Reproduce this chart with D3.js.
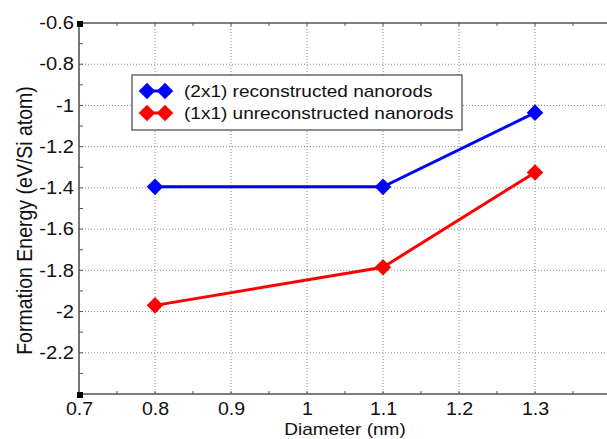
<!DOCTYPE html>
<html>
<head>
<meta charset="utf-8">
<script src="https://cdn.jsdelivr.net/npm/d3@7.9.0/dist/d3.min.js"></script>
<style>
  body { margin: 0; background: #fff; }
  svg { display: block; font-family: "Liberation Sans", Arial, sans-serif; }
</style>
</head>
<body>
<div id="chart"></div>
<script>
const diameters = [0.8, 1.1, 1.3];
const reconstructed = [-1.395, -1.395, -1.035];
const unreconstructed = [-1.97, -1.785, -1.325];
const seriesNames = ["(2x1) reconstructed nanorods", "(1x1) unreconstructed nanorods"];
const seriesColors = ["#0000ff", "#ff0000"];
const xTicks = [0.7, 0.8, 0.9, 1, 1.1, 1.2, 1.3];
const yTicks = [-0.6, -0.8, -1, -1.2, -1.4, -1.6, -1.8, -2, -2.2];

const width = 607;
const height = 439;
const margin = { top: 23, bottom: 45, left: 79 };
const stretchX = 1.12; // the original picture is a bit wider than tall

const svg = d3.select("#chart")
  .append("svg")
  .attr("width", width)
  .attr("height", height);

const x = d3.scaleLinear()
  .domain([0.7, 1.4])
  .range([margin.left, margin.left + 76 * 7]);

const y = d3.scaleLinear()
  .domain([-2.4, -0.6])
  .range([height - margin.bottom, margin.top]);

const axisColor = "#555";
const plotRight = width + 10;

// widen text around its own anchor point
function stretch(sel) {
  sel.each(function () {
    const t = d3.select(this);
    const tx = +t.attr("x") || 0;
    const ty = +t.attr("y") || 0;
    t.attr("x", 0).attr("y", 0)
      .attr("transform", `translate(${tx},${ty}) scale(${stretchX},1)`);
  });
}

// gridlines
svg.append("g")
  .selectAll("line")
  .data(xTicks.slice(1))
  .join("line")
  .attr("x1", d => x(d)).attr("x2", d => x(d))
  .attr("y1", y(-0.6)).attr("y2", y(-2.4))
  .attr("stroke", "#888")
  .attr("stroke-width", 1)
  .attr("stroke-dasharray", "1,2");

svg.append("g")
  .selectAll("line")
  .data(yTicks.slice(1))
  .join("line")
  .attr("x1", x(0.7)).attr("x2", plotRight)
  .attr("y1", d => y(d)).attr("y2", d => y(d))
  .attr("stroke", "#888")
  .attr("stroke-width", 1)
  .attr("stroke-dasharray", "1,2");

// axes
const xAxis = d3.axisBottom(x)
  .tickValues(xTicks)
  .tickSize(0)
  .tickPadding(9)
  .tickFormat(d => String(d));

const gx = svg.append("g")
  .attr("transform", `translate(0,${y(-2.4)})`)
  .call(xAxis);
gx.select(".domain").remove();
gx.selectAll("text").attr("font-size", 17.5).attr("fill", "#111").call(stretch);

const yAxis = d3.axisLeft(y)
  .tickValues(yTicks)
  .tickSize(0)
  .tickPadding(5)
  .tickFormat(d => String(d));

const gy = svg.append("g")
  .attr("transform", `translate(${x(0.7)},0)`)
  .call(yAxis);
gy.select(".domain").remove();
gy.selectAll("text").attr("font-size", 18).attr("fill", "#111").call(stretch);

// minor ticks
const xMinor = d3.range(14).map(i => 0.75 + i * 0.05).filter(v => v < 1.42);
[-2.4, -0.6].forEach(edge => {
  const dir = edge === -2.4 ? -3 : 3;
  svg.append("g")
    .selectAll("line")
    .data(xMinor)
    .join("line")
    .attr("x1", d => x(d)).attr("x2", d => x(d))
    .attr("y1", y(edge)).attr("y2", y(edge) + dir)
    .attr("stroke", axisColor);
});

const yMinor = d3.range(18).map(i => -0.7 - i * 0.1).filter(v => v > -2.4);
svg.append("g")
  .selectAll("line")
  .data(yMinor)
  .join("line")
  .attr("x1", x(0.7)).attr("x2", x(0.7) + 4)
  .attr("y1", d => y(d)).attr("y2", d => y(d))
  .attr("stroke", axisColor);

// frame lines
[-0.6, -2.4].forEach(v => {
  svg.append("line")
    .attr("x1", x(0.7)).attr("x2", plotRight)
    .attr("y1", y(v)).attr("y2", y(v))
    .attr("stroke", axisColor).attr("stroke-width", 1.6);
});
svg.append("line")
  .attr("x1", x(0.7)).attr("x2", x(0.7))
  .attr("y1", y(-0.6)).attr("y2", y(-2.4))
  .attr("stroke", axisColor).attr("stroke-width", 1.6);

// corner squares
svg.append("g")
  .selectAll("rect")
  .data([-0.6, -2.4])
  .join("rect")
  .attr("x", x(0.7) - 2).attr("y", d => y(d) - 2)
  .attr("width", 6).attr("height", 6)
  .attr("fill", "#000");

// series
const series = [
  diameters.map((d, i) => ({ x: d, y: reconstructed[i] })),
  diameters.map((d, i) => ({ x: d, y: unreconstructed[i] })),
];

const line = d3.line().x(d => x(d.x)).y(d => y(d.y));
const diamond = d3.symbol().type(d3.symbolDiamond2).size(175);

series.forEach((pts, i) => {
  svg.append("path")
    .datum(pts)
    .attr("d", line)
    .attr("fill", "none")
    .attr("stroke", seriesColors[i])
    .attr("stroke-width", 3);
  svg.append("g")
    .selectAll("path")
    .data(pts)
    .join("path")
    .attr("transform", d => `translate(${x(d.x)},${y(d.y)})`)
    .attr("d", diamond)
    .attr("fill", seriesColors[i]);
});

// legend
const legend = svg.append("g").attr("transform", "translate(132,75)");
legend.append("rect")
  .attr("width", 330).attr("height", 55)
  .attr("fill", "#fff")
  .attr("stroke", "#444")
  .attr("stroke-width", 1.2);

seriesNames.forEach((name, i) => {
  const row = legend.append("g").attr("transform", `translate(0,${16 + i * 22})`);
  row.append("line")
    .attr("x1", 15).attr("x2", 33)
    .attr("stroke", seriesColors[i]).attr("stroke-width", 3);
  [15, 33].forEach(cx => {
    row.append("path")
      .attr("transform", `translate(${cx},0)`)
      .attr("d", diamond)
      .attr("fill", seriesColors[i]);
  });
  row.append("text")
    .attr("x", 52).attr("y", 6)
    .attr("font-size", 17)
    .attr("fill", "#111")
    .text(name)
    .call(stretch);
});

// axis titles
svg.append("text")
  .attr("x", x(1.05))
  .attr("y", 435)
  .attr("text-anchor", "middle")
  .attr("font-size", 17)
  .attr("fill", "#111")
  .text("Diameter (nm)")
  .call(stretch);

svg.append("text")
  .attr("transform", `translate(32,${(y(-0.6) + y(-2.4)) / 2 + 12}) rotate(-90) scale(1,${stretchX})`)
  .attr("text-anchor", "middle")
  .attr("font-size", 19.5)
  .attr("fill", "#111")
  .text("Formation Energy (eV/Si atom)");
</script>
</body>
</html>
